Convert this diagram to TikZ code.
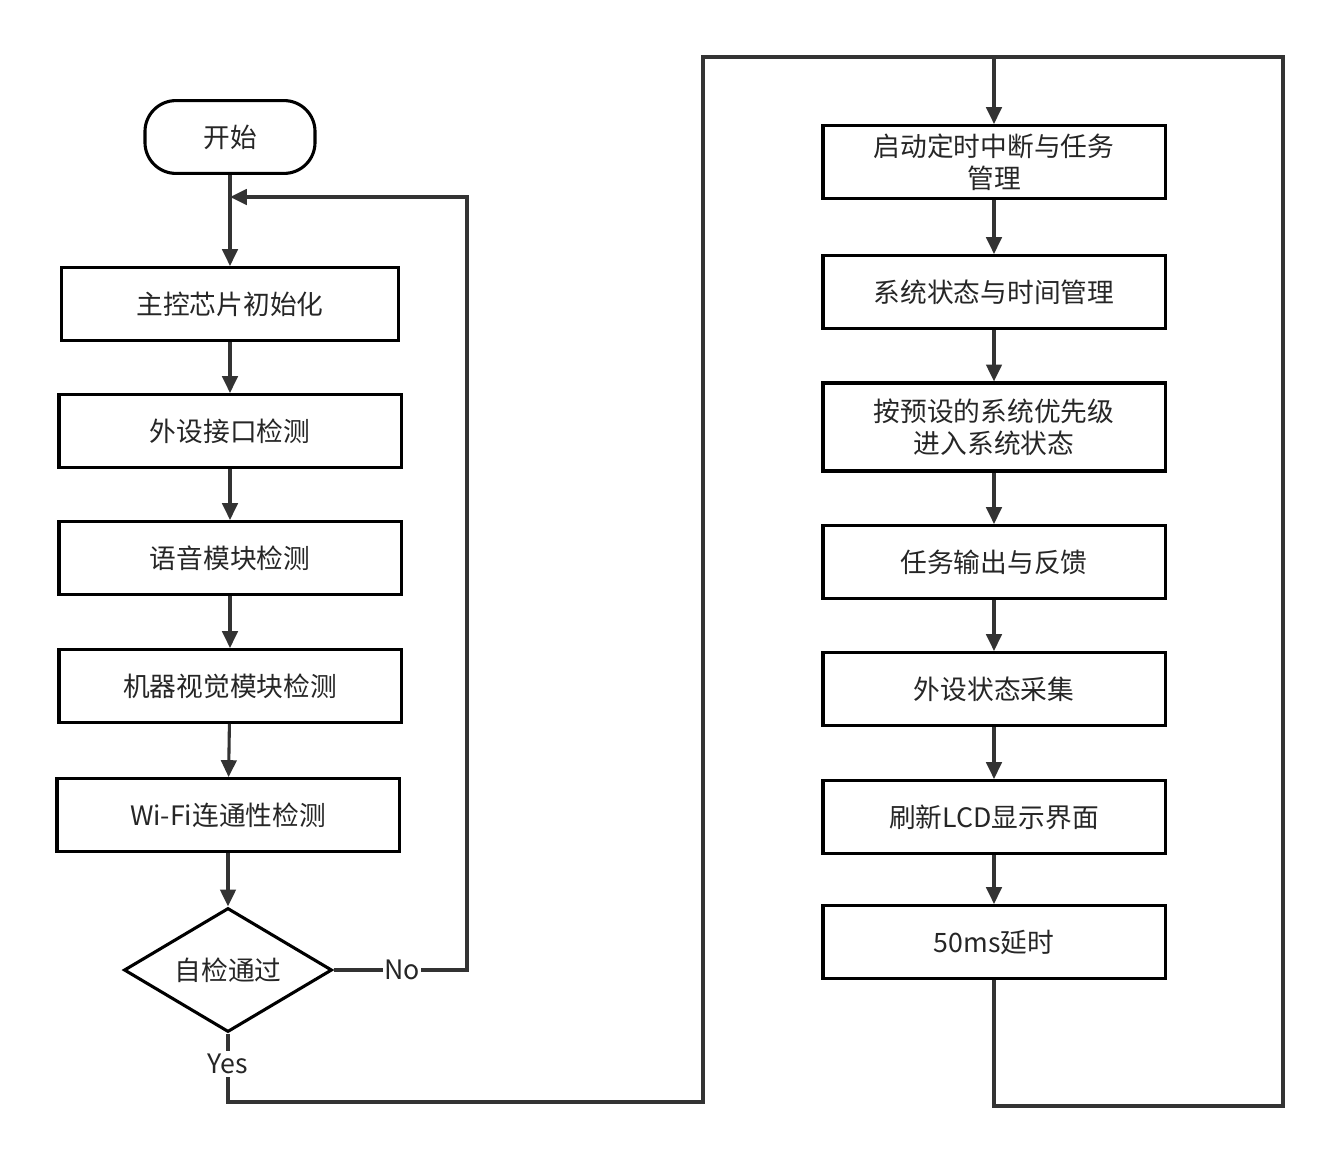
\documentclass[tikz,border=0pt]{standalone}
\usepackage{fontspec}
\setmainfont{Noto Sans CJK SC}
\usetikzlibrary{arrows.meta,shapes.geometric}
\tikzset{
    box/.style={draw, line width=2.2pt, minimum width=8.55cm, minimum height=1.82cm, align=center, font=\fontsize{19}{23}\selectfont, inner sep=1pt},
    flow/.style={line width=2.2pt, draw=black!80, -{Triangle[length=12pt,width=11pt]}},
    wire/.style={line width=2.2pt, draw=black!80}
}
\begin{document}
\begin{tikzpicture}[x=0.025cm, y=-0.025cm, every node/.style={text=black!85}]
    \useasboundingbox (0,0) rectangle (1340,1164);
    % Left column
    \node[box, rounded corners=22pt, minimum width=4.25cm] (start) at (230,137) {开始};
    \node[box, minimum width=8.43cm] (init) at (230,304) {主控芯片初始化};
    \node[box] (periph) at (230,431) {外设接口检测};
    \node[box] (voice) at (230,558) {语音模块检测};
    \node[box] (vision) at (230,686) {机器视觉模块检测};
    \node[box] (wifi) at (228,815) {Wi-Fi连通性检测};
    \node[draw, diamond, aspect=1.68, line width=2.2pt, minimum width=5.2cm, minimum height=3.1cm, inner sep=0pt, font=\fontsize{19}{23}\selectfont] (check) at (228,970) {自检通过};
    \coordinate (join) at (230,197);
    \draw[flow] (start) -- (init);
    \draw[flow] (init) -- (periph);
    \draw[flow] (periph) -- (voice);
    \draw[flow] (voice) -- (vision);
    \draw[flow] (vision) -- (wifi);
    \draw[flow] (wifi) -- (check);
    \draw[flow] (check.east) -- (467,970) -- (467,197) -- (join);
    \node[fill=white, inner sep=1pt, font=\fontsize{19}{23}\selectfont] (no) at (402,970) {No};
    % Right column
    \node[box] (timer) at (994,162) {启动定时中断与任务\\管理};
    \node[box] (state) at (994,292) {系统状态与时间管理};
    \node[box, minimum height=2.2cm] (prio) at (994,427) {按预设的系统优先级\\进入系统状态};
    \node[box] (task) at (994,562) {任务输出与反馈};
    \node[box] (collect) at (994,689) {外设状态采集};
    \node[box] (lcd) at (994,817) {刷新LCD显示界面};
    \node[box] (delay) at (994,942) {50ms延时};
    \draw[flow] (timer) -- (state);
    \draw[flow] (state) -- (prio);
    \draw[flow] (prio) -- (task);
    \draw[flow] (task) -- (collect);
    \draw[flow] (collect) -- (lcd);
    \draw[flow] (lcd) -- (delay);
    % Loops
    \draw[wire] (check.south) -- (228,1102) -- (703,1102) -- (703,57) -- (1283,57) -- (1283,1106) -- (994,1106) -- (delay.south);
    \draw[flow] (994,57) -- (timer);
    \node[fill=white, inner sep=2pt, font=\fontsize{19}{23}\selectfont] (yes) at (228,1064) {Yes};
\end{tikzpicture}
\end{document}
